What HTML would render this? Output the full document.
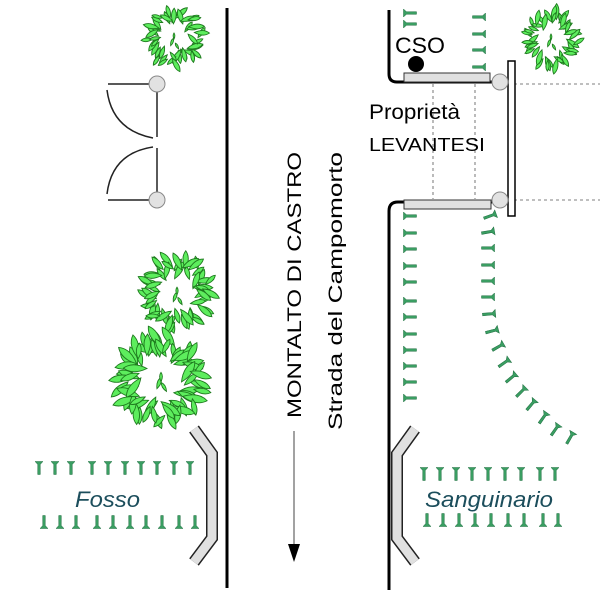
<!DOCTYPE html>
<html><head><meta charset="utf-8"><style>
html,body{margin:0;padding:0;background:#fff;width:600px;height:600px;overflow:hidden}
svg{display:block}
text{font-family:"Liberation Sans",sans-serif}
</style></head><body>
<svg id="s" width="600" height="600" viewBox="0 0 600 600" xmlns="http://www.w3.org/2000/svg">
<defs>
<path id="g" d="M-4,-6.5 L4,-6.5 L1.2,-3.5 L1.3,6.5 L-1.3,6.5 L-1.2,-3.5 Z" fill="#3a9e62" stroke="#1f6e40" stroke-width="0.5"/>
</defs>
<line x1="227" y1="8" x2="227" y2="588" stroke="#000" stroke-width="3"/>
<path d="M389,10 L389,74 Q389,82 397,82 L492,82" fill="none" stroke="#000" stroke-width="3"/>
<path d="M492,202 L398,202 Q389,202 389,211 L389,590" fill="none" stroke="#000" stroke-width="3"/>
<g stroke="#555" stroke-width="0.8" stroke-dasharray="3,3" fill="none">
<line x1="514" y1="84" x2="600" y2="84"/><line x1="514" y1="200" x2="600" y2="200"/>
<line x1="433" y1="84" x2="433" y2="199"/><line x1="475" y1="84" x2="475" y2="199"/>
</g>
<rect x="404" y="73" width="86" height="9" fill="#e0e0e0" stroke="#333" stroke-width="1"/>
<rect x="404" y="200" width="87" height="9" fill="#e0e0e0" stroke="#333" stroke-width="1"/>
<rect x="508" y="61" width="7" height="155" fill="#fff" stroke="#000" stroke-width="1.5"/>
<circle cx="500" cy="82" r="8" fill="#e2e2e2" stroke="#888"/>
<circle cx="500" cy="200" r="8" fill="#e2e2e2" stroke="#888"/>
<circle cx="416" cy="64" r="8" fill="#000"/>
<text x="395" y="53" font-size="22" textLength="50" lengthAdjust="spacingAndGlyphs">CSO</text>
<text x="369" y="119" font-size="21" textLength="91" lengthAdjust="spacingAndGlyphs">Proprietà</text>
<text x="369" y="151" font-size="18" textLength="116" lengthAdjust="spacingAndGlyphs">LEVANTESI</text>
<g stroke="#222" stroke-width="1.5" fill="none">
<line x1="108" y1="84" x2="150" y2="84"/><line x1="108" y1="200" x2="150" y2="200"/>
<line x1="157" y1="90" x2="157" y2="137"/><line x1="157" y1="148" x2="157" y2="194"/>
<path d="M107,90 Q112,130 153,138"/>
<path d="M107,194 Q112,153 153,147"/>
</g>
<circle cx="157" cy="84" r="8" fill="#e2e2e2" stroke="#888"/>
<circle cx="157" cy="200" r="8" fill="#e2e2e2" stroke="#888"/>
<text transform="translate(301,418) rotate(-90)" font-size="19" textLength="266" lengthAdjust="spacingAndGlyphs">MONTALTO DI CASTRO</text>
<text transform="translate(342,430) rotate(-90)" font-size="19" textLength="278" lengthAdjust="spacingAndGlyphs">Strada del  Campomorto</text>
<line x1="294" y1="431" x2="294" y2="548" stroke="#444" stroke-width="1"/>
<path d="M288,544 L300,544 L294,562 Z" fill="#000"/>
<g fill="none" stroke-linejoin="miter">
<path d="M194,429 L212,454 L212,538 L194,562" stroke="#222" stroke-width="12"/>
<path d="M194,429 L212,454 L212,538 L194,562" stroke="#e0e0e0" stroke-width="9"/>
<path d="M415,429 L397,454 L397,538 L415,562" stroke="#222" stroke-width="12"/>
<path d="M415,429 L397,454 L397,538 L415,562" stroke="#e0e0e0" stroke-width="9"/>
</g>
<text x="75" y="507" font-size="22" font-style="italic" fill="#1c4e5c" textLength="65" lengthAdjust="spacingAndGlyphs">Fosso</text>
<text x="425" y="507" font-size="22" font-style="italic" fill="#1c4e5c" textLength="128" lengthAdjust="spacingAndGlyphs">Sanguinario</text>
<g id="marks"></g>
<g id="trees"></g>
</svg>
<script>
var NS="http://www.w3.org/2000/svg";
var M=document.getElementById('marks');
function mk(x,y,r){var u=document.createElementNS(NS,'use');u.setAttribute('href','#g');u.setAttribute('transform','translate('+x+','+y+') rotate('+r+')');M.appendChild(u);}
var lx=[39,55,71,92,108,125,141,157,174,190];
lx.forEach(function(x){mk(x,468,0);mk(x+5,522,180);});
var rx=[424,440,456,472,488,505,521,540,555];
rx.forEach(function(x){mk(x,474,0);mk(x+3,520,180);});
[13,24].forEach(function(y){mk(410,y,-90);});
[17,34,50,67].forEach(function(y){mk(479,y,90);});
[216,233,249,266,282,301,317,334,350,366,382,398].forEach(function(y){mk(410,y,-90);});
[[490,216,70],[488,232,80],[488,248,90],[488,265,90],[488,281,90],[488,297,90],[489,314,85],[492,331,75],
 [498,347,60],[504,363,55],[511,378,50],[521,392,45],[531,405,40],[543,418,35],[555,430,35],[570,438,30]].forEach(function(p){mk(p[0],p[1],p[2]);});
var T=document.getElementById('trees');var seed=7;
function rnd(){seed=(seed*9301+49297)%233280;return seed/233280;}
function leaf(x,y,a,s){var p=document.createElementNS(NS,'path');
var w=s*0.6;
p.setAttribute('d','M0,'+(-s)+' Q'+w+','+(-s*0.2)+' 0,'+s+' Q'+(-w)+','+(-s*0.2)+' 0,'+(-s)+' Z');
p.setAttribute('transform','translate('+x.toFixed(1)+','+y.toFixed(1)+') rotate('+a.toFixed(0)+')');
p.setAttribute('fill','#5ded5d');p.setAttribute('stroke','#1e7a1e');p.setAttribute('stroke-width','0.9');T.appendChild(p);}
function tree(cx,cy,R){
 var n=Math.round(R*0.75);
 for(var k=0;k<2;k++)for(var i=0;i<n;i++){var t=i/n*6.283+rnd()*0.3+k*0.2;var rr=R*(0.6+0.35*rnd());
  leaf(cx+rr*Math.cos(t),cy+rr*Math.sin(t),t*57.3+90+(rnd()-0.5)*90,R*(0.17+0.1*rnd()));}
 leaf(cx-2,cy+4,20,R*0.13);leaf(cx+3,cy+8,-30,R*0.11);leaf(cx,cy-2,0,R*0.1);
}
tree(174,38,30);tree(551,39,30);tree(177,293,38);tree(161,379,46);
</script>
</body></html>
